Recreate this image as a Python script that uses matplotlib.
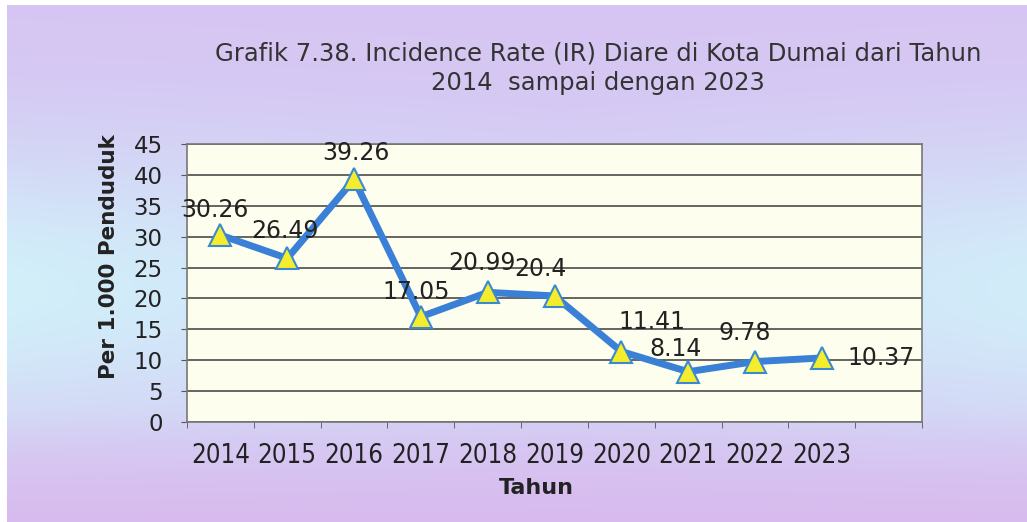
import numpy as np
import matplotlib
matplotlib.use("Agg")
import matplotlib.pyplot as plt

years = ['2014', '2015', '2016', '2017', '2018', '2019', '2020', '2021', '2022', '2023']
ir_values = [30.26, 26.49, 39.26, 17.05, 20.99, 20.4, 11.41, 8.14, 9.78, 10.37]
value_labels = ['30.26', '26.49', '39.26', '17.05', '20.99', '20.4', '11.41', '8.14', '9.78', '10.37']
# label offsets from each point, in pixels
label_offsets = [(-5, 25), (-2, 27), (2, 26), (-5, 25), (-6, 29),
                 (-14, 27), (31, 30), (-13, 23), (-10, 29), (59, 0)]

W, H = 1027, 522
fig = plt.figure(figsize=(W / 100, H / 100), dpi=100)

# background: lavender with a light cyan band, pinkish bottom
yy, xx = np.mgrid[0:H, 0:W]
lav = np.array([0.84, 0.77, 0.95])
cyan = np.array([0.82, 0.94, 0.98])
pink = np.array([0.85, 0.72, 0.93])
w_cyan = np.exp(-((yy - 290) / 150.0) ** 2) * (0.55 + 0.45 * np.abs(xx - 560) / 560.0)
w_pink = np.clip((yy - 410) / 110.0, 0, 1) * 0.8
img = lav * (1 - w_cyan[..., None]) + cyan * w_cyan[..., None]
img = img * (1 - w_pink[..., None]) + pink * w_pink[..., None]
img[:, :7] = 1.0
img[:5, :] = 1.0
bg = fig.add_axes([0, 0, 1, 1])
bg.imshow(img, aspect='auto', interpolation='bilinear')
bg.axis('off')

left, right, top, bottom = 187, 922, 144, 422
ax = fig.add_axes([left / W, 1 - bottom / H, (right - left) / W, (bottom - top) / H])
ax.set_facecolor('#FEFEEE')

x = np.arange(len(years))
ax.plot(x, ir_values, color='#3A80D6', lw=5, marker='^', ms=16,
        markerfacecolor='#F6EC2E', markeredgecolor='#3A8AD0', markeredgewidth=1.5,
        zorder=3)

for xi, yi, lab, off in zip(x, ir_values, value_labels, label_offsets):
    ax.annotate(lab, (xi, yi), xytext=off, textcoords='offset pixels',
                ha='center', va='center', fontsize=17, color='#222222', zorder=4)

ax.set_xlim(-0.5, 10.5)
ax.set_ylim(0, 45)
ax.set_yticks(np.arange(0, 46, 5))
ax.set_xticks(x)
ax.set_xticklabels(years, fontsize=18.5, fontstretch='condensed',
                   family=['DejaVu Sans Condensed', 'DejaVu Sans'])
ax.set_xticks(np.arange(-0.5, 11, 1), minor=True)
ax.tick_params(axis='x', which='major', length=0, pad=15, colors='#222222')
ax.tick_params(axis='x', which='minor', length=4.5, direction='out', color='#555555')
ax.tick_params(axis='y', length=4.5, direction='out', pad=13, labelsize=16.5,
               colors='#222222', color='#555555')
ax.yaxis.grid(True, color='#4a4a4a', lw=1.2)
ax.set_axisbelow(True)
for s in ax.spines.values():
    s.set_color('#777777')
    s.set_linewidth(1.2)

ax.set_ylabel('Per 1.000 Penduduk', fontsize=15.5, fontweight='bold', color='#222222')
ax.yaxis.set_label_coords(-0.0925, 0.595)
ax.set_xlabel('Tahun', fontsize=16, fontweight='bold', color='#222222')
ax.xaxis.set_label_coords(0.475, -0.2)

fig.text(598 / W, 1 - 53 / H, 'Grafik 7.38. Incidence Rate (IR) Diare di Kota Dumai dari Tahun',
         ha='center', va='center', fontsize=17.5, color='#333333')
fig.text(598 / W, 1 - 83 / H, '2014  sampai dengan 2023',
         ha='center', va='center', fontsize=17.5, color='#333333')

fig.savefig('out.png', dpi=100)
